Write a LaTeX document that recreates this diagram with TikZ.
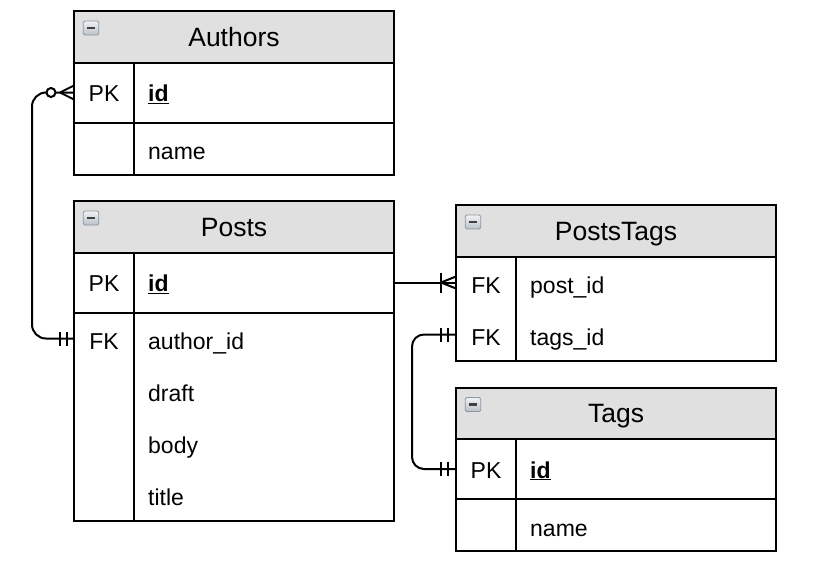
\documentclass[tikz,border=0pt]{standalone}
\usepackage{fontspec}
\setmainfont{Liberation Sans}
\usetikzlibrary{positioning}
\definecolor{headgray}{HTML}{E0E0E0}
\definecolor{icontop}{HTML}{F0F2F5}
\definecolor{iconbottom}{HTML}{B9C1CA}
\definecolor{iconedge}{HTML}{8E979F}
\newcommand{\erhead}{\fontsize{26.5}{30}\selectfont}
\newcommand{\errow}{\fontsize{23}{27}\selectfont}
\newcommand{\pkfield}[1]{\underline{\textbf{#1}}}
\begin{document}
\begin{tikzpicture}[x=1pt,y=-1pt]
 \tikzset{
  tableline/.style={line width=2pt},
  tablehead/.style={draw, tableline, fill=headgray, anchor=north west, minimum width=320pt, minimum height=51.5pt, inner sep=0pt, outer sep=0pt, font=\erhead, text height=19pt, text depth=0pt},
  keyrow/.style={draw, tableline, minimum width=320pt, minimum height=60pt, inner sep=0pt, outer sep=0pt},
  fieldrow/.style={minimum width=320pt, minimum height=52pt, inner sep=0pt, outer sep=0pt},
  keytext/.style={font=\errow, inner sep=0pt, text height=18pt, text depth=0pt},
  fieldtext/.style={keytext, anchor=west},
  rowtext/.style={keytext, yshift=-2pt},
  rowfield/.style={fieldtext, yshift=-2pt},
  icon/.style={draw=iconedge, line width=0.8pt, rounded corners=1.5pt, minimum width=15.5pt, minimum height=14pt, inner sep=0pt, top color=icontop, bottom color=iconbottom,
   path picture={\draw[line width=2.2pt, black!75] ([xshift=3.5pt]path picture bounding box.west) -- ([xshift=-3.5pt]path picture bounding box.east);}},
  link/.style={line width=2pt}
 }
 \fill[white] (0,0) rectangle (840,587);
 \useasboundingbox (0,0) rectangle (840,587);

 % Authors
 \node[tablehead] (authors) at (74,11) {Authors};
 \node[icon] (authors-icon) at ([xshift=17pt,yshift=-17pt]authors.north west) {};
 \node[keyrow, below=0pt of authors] (authors-id) {};
 \node[fieldrow, below=0pt of authors-id] (authors-name) {};
 \draw[tableline] (authors-name.north west) rectangle (authors-name.south east);
 \draw[tableline] ([xshift=60pt]authors-id.north west) -- ([xshift=60pt]authors-name.south west);
 \node[keytext] at ([xshift=30pt]authors-id.west) {PK};
 \node[fieldtext] at ([xshift=74pt]authors-id.west) {\pkfield{id}};
 \node[rowfield] at ([xshift=74pt]authors-name.west) {name};

 % Posts
 \node[tablehead] (posts) at (74,201) {Posts};
 \node[icon] (posts-icon) at ([xshift=17pt,yshift=-17pt]posts.north west) {};
 \node[keyrow, below=0pt of posts] (posts-id) {};
 \node[fieldrow, below=0pt of posts-id] (posts-author) {};
 \node[fieldrow, below=0pt of posts-author] (posts-draft) {};
 \node[fieldrow, below=0pt of posts-draft] (posts-body) {};
 \node[fieldrow, below=0pt of posts-body] (posts-title) {};
 \draw[tableline] (posts-author.north west) rectangle (posts-title.south east);
 \draw[tableline] ([xshift=60pt]posts-id.north west) -- ([xshift=60pt]posts-title.south west);
 \node[keytext] at ([xshift=30pt]posts-id.west) {PK};
 \node[fieldtext] at ([xshift=74pt]posts-id.west) {\pkfield{id}};
 \node[rowtext] at ([xshift=30pt]posts-author.west) {FK};
 \node[rowfield] at ([xshift=74pt]posts-author.west) {author\_id};
 \node[rowfield] at ([xshift=74pt]posts-draft.west) {draft};
 \node[rowfield] at ([xshift=74pt]posts-body.west) {body};
 \node[rowfield] at ([xshift=74pt]posts-title.west) {title};

 % PostsTags
 \node[tablehead] (pt) at (456,205) {PostsTags};
 \node[icon] (pt-icon) at ([xshift=17pt,yshift=-17pt]pt.north west) {};
 \node[fieldrow, below=0pt of pt] (pt-post) {};
 \node[fieldrow, below=0pt of pt-post] (pt-tags) {};
 \draw[tableline] (pt-post.north west) rectangle (pt-tags.south east);
 \draw[tableline] ([xshift=60pt]pt-post.north west) -- ([xshift=60pt]pt-tags.south west);
 \node[rowtext] at ([xshift=30pt]pt-post.west) {FK};
 \node[rowfield] at ([xshift=74pt]pt-post.west) {post\_id};
 \node[rowtext] at ([xshift=30pt]pt-tags.west) {FK};
 \node[rowfield] at ([xshift=74pt]pt-tags.west) {tags\_id};

 % Tags
 \node[tablehead] (tags) at (456,387.5) {Tags};
 \node[icon] (tags-icon) at ([xshift=17pt,yshift=-17pt]tags.north west) {};
 \node[keyrow, below=0pt of tags] (tags-id) {};
 \node[fieldrow, below=0pt of tags-id] (tags-name) {};
 \draw[tableline] (tags-name.north west) rectangle (tags-name.south east);
 \draw[tableline] ([xshift=60pt]tags-id.north west) -- ([xshift=60pt]tags-name.south west);
 \node[keytext] at ([xshift=30pt]tags-id.west) {PK};
 \node[fieldtext] at ([xshift=74pt]tags-id.west) {\pkfield{id}};
 \node[rowfield] at ([xshift=74pt]tags-name.west) {name};

 % Authors -- Posts (one to zero or many)
 \draw[link, rounded corners=14pt] (authors-id.west) -- ++(-42,0) |- (posts-author.west);
 \draw[link] ([xshift=-14pt]authors-id.west) -- ([yshift=7pt]authors-id.west)
             ([xshift=-14pt]authors-id.west) -- ([yshift=-7pt]authors-id.west);
 \draw[link, fill=white] ([xshift=-23pt]authors-id.west) circle (4.5pt);
 \draw[link] ([xshift=-14pt,yshift=7pt]posts-author.west) -- ([xshift=-14pt,yshift=-7pt]posts-author.west)
             ([xshift=-7.5pt,yshift=7pt]posts-author.west) -- ([xshift=-7.5pt,yshift=-7pt]posts-author.west);

 % Posts -- PostsTags (one or many)
 \draw[link] (posts-id.east) -- (pt-post.west);
 \draw[link] ([xshift=-15pt,yshift=10pt]pt-post.west) -- ([xshift=-15pt,yshift=-10pt]pt-post.west);
 \draw[link] ([xshift=-15pt]pt-post.west) -- ([yshift=6pt]pt-post.west)
             ([xshift=-15pt]pt-post.west) -- ([yshift=-6pt]pt-post.west);

 % PostsTags -- Tags (one to one)
 \draw[link, rounded corners=12pt] (pt-tags.west) -- ++(-44,0) |- (tags-id.west);
 \draw[link] ([xshift=-15pt,yshift=7pt]pt-tags.west) -- ([xshift=-15pt,yshift=-7pt]pt-tags.west)
             ([xshift=-8.5pt,yshift=7pt]pt-tags.west) -- ([xshift=-8.5pt,yshift=-7pt]pt-tags.west);
 \draw[link] ([xshift=-15pt,yshift=7pt]tags-id.west) -- ([xshift=-15pt,yshift=-7pt]tags-id.west)
             ([xshift=-8.5pt,yshift=7pt]tags-id.west) -- ([xshift=-8.5pt,yshift=-7pt]tags-id.west);
\end{tikzpicture}
\end{document}
